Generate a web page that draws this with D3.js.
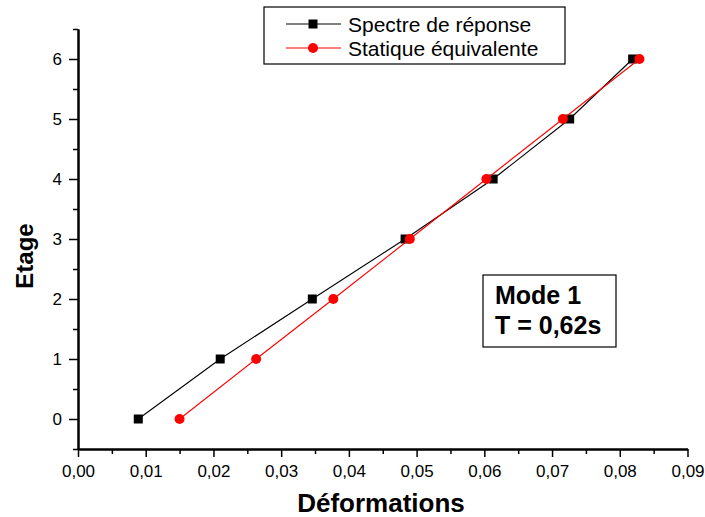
<!DOCTYPE html>
<html lang="fr">
<head>
    <meta charset="UTF-8">
    <script src="https://cdn.jsdelivr.net/npm/d3@7"></script>
    <title>Déformations par étage</title>
    <style>
        body { margin: 0; background: #fff; }
        svg { display: block; font-family: "Liberation Sans", Arial, sans-serif; }
        .tick text { font-family: "Liberation Sans", Arial, sans-serif; font-size: 17px; fill: #000; }
    </style>
</head>
<body>
<svg width="705" height="517"></svg>
<script>
    var etages = [0, 1, 2, 3, 4, 5, 6];
    var spectre = [0.0089, 0.0210, 0.0346, 0.0483, 0.0613, 0.0726, 0.0819];
    var statique = [0.0150, 0.0263, 0.0377, 0.0490, 0.0603, 0.0716, 0.0829];
    var xTicks = [0, 0.01, 0.02, 0.03, 0.04, 0.05, 0.06, 0.07, 0.08, 0.09];
    var yTicks = [0, 1, 2, 3, 4, 5, 6];
    var seriesNames = ["Spectre de réponse", "Statique équivalente"];

    var svg = d3.select("svg");
    var x = d3.scaleLinear().domain([0, 0.09]).range([78, 687.5]);
    var y = d3.scaleLinear().domain([-0.5, 6.5]).range([449, 29]);

    // minor ticks, half way between the major ones
    var xMinor = d3.range(0, 9).map(function (i) { return i * 0.01 + 0.005; });
    var yMinor = d3.range(-0.5, 6.6, 1);

    svg.append("g").attr("transform", "translate(0,449)")
        .call(d3.axisBottom(x).tickValues(xMinor).tickSize(5).tickSizeOuter(0).tickFormat(""));
    var gx = svg.append("g").attr("transform", "translate(0,449)");
    gx.call(d3.axisBottom(x).tickValues(xTicks).tickSize(8).tickSizeOuter(0)
        .tickFormat(function (d) { return d3.format(".2f")(d).replace(".", ","); }));
    gx.selectAll("text").attr("dy", 0).attr("y", 28);

    svg.append("g").attr("transform", "translate(78,0)")
        .call(d3.axisLeft(y).tickValues(yMinor).tickSize(5).tickSizeOuter(0).tickFormat(""));
    var gy = svg.append("g").attr("transform", "translate(78,0)");
    gy.call(d3.axisLeft(y).tickValues(yTicks).tickSize(9).tickSizeOuter(0).tickFormat(d3.format("d")));
    gy.selectAll("text").attr("x", -16);

    svg.selectAll(".domain").attr("stroke", "#000").attr("stroke-width", 2);
    svg.selectAll(".tick line").attr("stroke", "#000").attr("stroke-width", 1.5);

    // axis titles
    svg.append("text").attr("x", 381).attr("y", 512).attr("text-anchor", "middle")
        .attr("font-size", 26).attr("font-weight", "bold").text("Déformations");
    svg.append("text").attr("transform", "translate(33,256) rotate(-90)").attr("text-anchor", "middle")
        .attr("font-size", 24).attr("font-weight", "bold").text("Etage");

    var line = d3.line()
        .x(function (d) { return x(d[0]); })
        .y(function (d) { return y(d[1]); });

    var dataBlack = spectre.map(function (v, i) { return [v, etages[i]]; });
    var dataRed = statique.map(function (v, i) { return [v, etages[i]]; });

    svg.append("path").datum(dataBlack).attr("d", line)
        .attr("fill", "none").attr("stroke", "#000").attr("stroke-width", 1.1);
    svg.selectAll(".sq").data(dataBlack).enter().append("rect")
        .attr("x", function (d) { return x(d[0]) - 4.5; })
        .attr("y", function (d) { return y(d[1]) - 4.5; })
        .attr("width", 9).attr("height", 9).attr("fill", "#000");

    svg.append("path").datum(dataRed).attr("d", line)
        .attr("fill", "none").attr("stroke", "#ff0000").attr("stroke-width", 1.1);
    svg.selectAll(".ci").data(dataRed).enter().append("circle")
        .attr("cx", function (d) { return x(d[0]); })
        .attr("cy", function (d) { return y(d[1]); })
        .attr("r", 5).attr("fill", "#ff0000");

    // legend
    var leg = svg.append("g");
    leg.append("rect").attr("x", 264).attr("y", 7).attr("width", 301).attr("height", 57)
        .attr("fill", "#fff").attr("stroke", "#000").attr("stroke-width", 1.2);
    var legRows = [
        {name: seriesNames[0], color: "#000", y: 24, shape: "square"},
        {name: seriesNames[1], color: "#ff0000", y: 48, shape: "circle"}
    ];
    legRows.forEach(function (r) {
        leg.append("line").attr("x1", 286).attr("x2", 341).attr("y1", r.y).attr("y2", r.y)
            .attr("stroke", r.color).attr("stroke-width", 1.1);
        if (r.shape === "square") {
            leg.append("rect").attr("x", 313 - 4.5).attr("y", r.y - 4.5).attr("width", 9).attr("height", 9)
                .attr("fill", r.color);
        } else {
            leg.append("circle").attr("cx", 313).attr("cy", r.y).attr("r", 5).attr("fill", r.color);
        }
        leg.append("text").attr("x", 348).attr("y", r.y + 7.5).attr("font-size", 21).text(r.name);
    });

    // annotation box
    svg.append("rect").attr("x", 483).attr("y", 275).attr("width", 133).attr("height", 72)
        .attr("fill", "#fff").attr("stroke", "#000").attr("stroke-width", 1.2);
    svg.append("text").attr("x", 495).attr("y", 304).attr("font-size", 25).attr("font-weight", "bold").text("Mode 1");
    svg.append("text").attr("x", 495).attr("y", 334).attr("font-size", 25).attr("font-weight", "bold").text("T = 0,62s");
</script>
</body>
</html>
